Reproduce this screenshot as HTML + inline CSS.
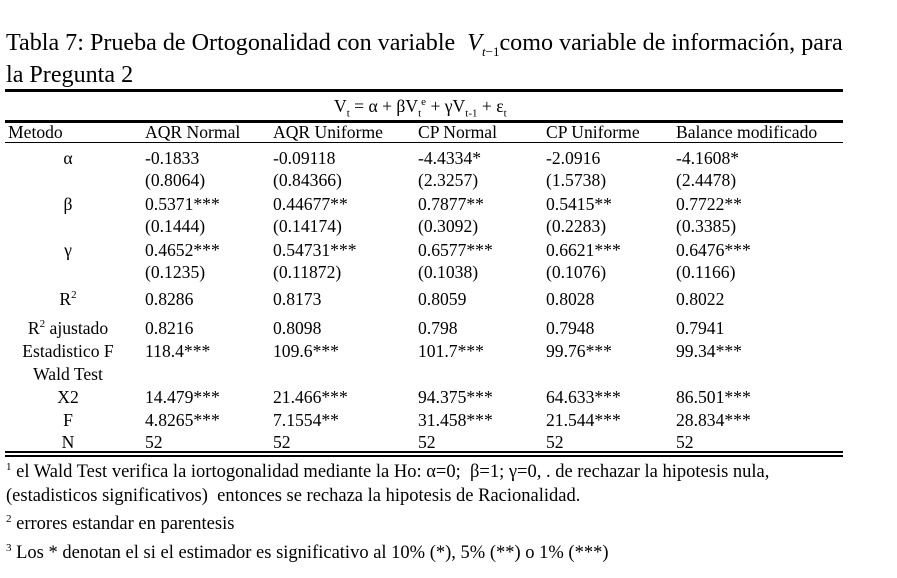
<!DOCTYPE html><html><head><meta charset="utf-8"><style>
body{margin:0;width:897px;height:578px;background:#fff;position:relative;overflow:hidden;font-family:"Liberation Serif","Times New Roman",serif;color:#000}
.t{position:absolute;white-space:nowrap;font-size:17.6px;line-height:18px;font-family:"Liberation Serif",serif}
.h{position:absolute;left:5px;width:838px;background:#000}
.l{position:absolute;width:130px;left:3px;text-align:center;font-size:17.6px;line-height:18px;font-family:"Liberation Serif",serif}
sup,sub{font-size:11px;line-height:0}
.f{font-size:18.5px}
</style></head><body>
<div class="t" style="left:6px;top:30px;font-size:24.1px;line-height:26px">Tabla 7: Prueba de Ortogonalidad con variable &nbsp;<i>V</i><sub style="font-size:13px"><i>t</i>−1</sub>como variable de información, para</div>
<div class="t" style="left:6px;top:62px;font-size:24.1px;line-height:26px">la Pregunta 2</div>
<div class="h" style="top:89px;height:3px"></div>
<div class="t" style="left:334px;top:97px">V<sub>t</sub> = α + βV<sub>t</sub><sup>e</sup> + γV<sub>t-1</sub> + ε<sub>t</sub></div>
<div class="h" style="top:120px;height:3px"></div>
<div class="h" style="top:142px;height:1px"></div>
<div class="t" style="left:8px;top:123px">Metodo</div>
<div class="t" style="left:145px;top:123px">AQR Normal</div>
<div class="t" style="left:273px;top:123px">AQR Uniforme</div>
<div class="t" style="left:418px;top:123px">CP Normal</div>
<div class="t" style="left:546px;top:123px">CP Uniforme</div>
<div class="t" style="left:676px;top:123px">Balance modificado</div>

<div class="l" style="top:149px">α</div>
<div class="t" style="left:145px;top:149px">-0.1833</div><div class="t" style="left:273px;top:149px">-0.09118</div><div class="t" style="left:418px;top:149px">-4.4334*</div><div class="t" style="left:546px;top:149px">-2.0916</div><div class="t" style="left:676px;top:149px">-4.1608*</div>
<div class="t" style="left:145px;top:171px">(0.8064)</div><div class="t" style="left:273px;top:171px">(0.84366)</div><div class="t" style="left:418px;top:171px">(2.3257)</div><div class="t" style="left:546px;top:171px">(1.5738)</div><div class="t" style="left:676px;top:171px">(2.4478)</div>
<div class="l" style="top:195px">β</div>
<div class="t" style="left:145px;top:195px">0.5371***</div><div class="t" style="left:273px;top:195px">0.44677**</div><div class="t" style="left:418px;top:195px">0.7877**</div><div class="t" style="left:546px;top:195px">0.5415**</div><div class="t" style="left:676px;top:195px">0.7722**</div>
<div class="t" style="left:145px;top:217px">(0.1444)</div><div class="t" style="left:273px;top:217px">(0.14174)</div><div class="t" style="left:418px;top:217px">(0.3092)</div><div class="t" style="left:546px;top:217px">(0.2283)</div><div class="t" style="left:676px;top:217px">(0.3385)</div>
<div class="l" style="top:241px">γ</div>
<div class="t" style="left:145px;top:241px">0.4652***</div><div class="t" style="left:273px;top:241px">0.54731***</div><div class="t" style="left:418px;top:241px">0.6577***</div><div class="t" style="left:546px;top:241px">0.6621***</div><div class="t" style="left:676px;top:241px">0.6476***</div>
<div class="t" style="left:145px;top:263px">(0.1235)</div><div class="t" style="left:273px;top:263px">(0.11872)</div><div class="t" style="left:418px;top:263px">(0.1038)</div><div class="t" style="left:546px;top:263px">(0.1076)</div><div class="t" style="left:676px;top:263px">(0.1166)</div>
<div class="l" style="top:290px">R<sup>2</sup></div>
<div class="t" style="left:145px;top:290px">0.8286</div><div class="t" style="left:273px;top:290px">0.8173</div><div class="t" style="left:418px;top:290px">0.8059</div><div class="t" style="left:546px;top:290px">0.8028</div><div class="t" style="left:676px;top:290px">0.8022</div>
<div class="l" style="top:319px">R<sup>2</sup> ajustado</div>
<div class="t" style="left:145px;top:319px">0.8216</div><div class="t" style="left:273px;top:319px">0.8098</div><div class="t" style="left:418px;top:319px">0.798</div><div class="t" style="left:546px;top:319px">0.7948</div><div class="t" style="left:676px;top:319px">0.7941</div>
<div class="l" style="top:342px">Estadistico F</div>
<div class="t" style="left:145px;top:342px">118.4***</div><div class="t" style="left:273px;top:342px">109.6***</div><div class="t" style="left:418px;top:342px">101.7***</div><div class="t" style="left:546px;top:342px">99.76***</div><div class="t" style="left:676px;top:342px">99.34***</div>
<div class="l" style="top:365px">Wald Test</div>
<div class="l" style="top:388px">X2</div>
<div class="t" style="left:145px;top:388px">14.479***</div><div class="t" style="left:273px;top:388px">21.466***</div><div class="t" style="left:418px;top:388px">94.375***</div><div class="t" style="left:546px;top:388px">64.633***</div><div class="t" style="left:676px;top:388px">86.501***</div>
<div class="l" style="top:411px">F</div>
<div class="t" style="left:145px;top:411px">4.8265***</div><div class="t" style="left:273px;top:411px">7.1554**</div><div class="t" style="left:418px;top:411px">31.458***</div><div class="t" style="left:546px;top:411px">21.544***</div><div class="t" style="left:676px;top:411px">28.834***</div>
<div class="l" style="top:433px">N</div>
<div class="t" style="left:145px;top:433px">52</div><div class="t" style="left:273px;top:433px">52</div><div class="t" style="left:418px;top:433px">52</div><div class="t" style="left:546px;top:433px">52</div><div class="t" style="left:676px;top:433px">52</div>
<div class="h" style="top:451px;height:2px"></div>
<div class="h" style="top:455px;height:2px"></div>
<div class="t f" style="left:6px;top:463px"><sup>1</sup> el Wald Test verifica la iortogonalidad mediante la Ho: α=0; &nbsp;β=1; γ=0, . de rechazar la hipotesis nula,</div>
<div class="t f" style="left:6px;top:487px">(estadisticos significativos) &nbsp;entonces se rechaza la hipotesis de Racionalidad.</div>
<div class="t f" style="left:6px;top:515px"><sup>2</sup> errores estandar en parentesis</div>
<div class="t f" style="left:6px;top:544px"><sup>3</sup> Los * denotan el si el estimador es significativo al 10% (*), 5% (**) o 1% (***)</div>
</body></html>
